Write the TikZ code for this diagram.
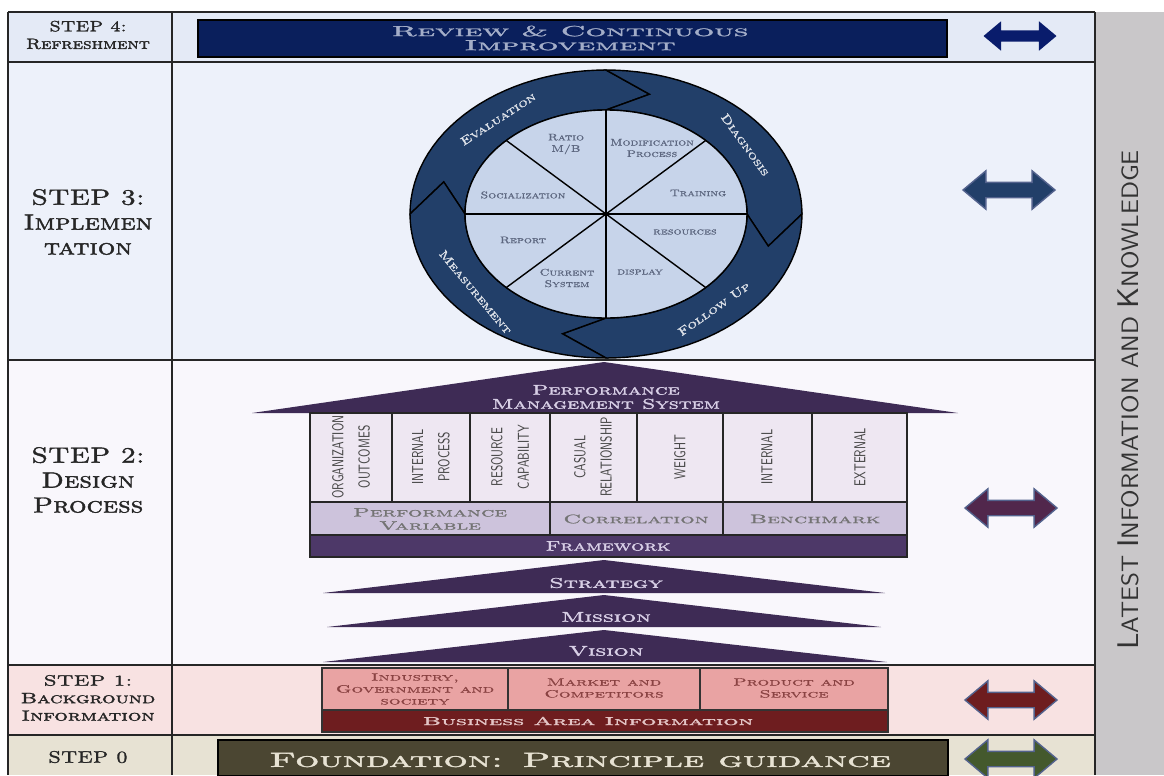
\documentclass[tikz,border=0pt]{standalone}
\usepackage{fontspec}
\usepackage{tikz}
\usetikzlibrary{shapes.arrows}

\newfontfamily\capbold{lmromancaps10-regular.otf}[FakeBold=1.6]
\newfontfamily\capsemi{lmromancaps10-regular.otf}[FakeBold=0.8]
\newfontfamily\capring{lmromancaps10-regular.otf}[FakeBold=1.6, FakeStretch=1.3]

\definecolor{rowfour}{HTML}{E4EAF6}
\definecolor{rowthree}{HTML}{EDF1FA}
\definecolor{rowtwo}{HTML}{F9F7FC}
\definecolor{rowone}{HTML}{F8E2E2}
\definecolor{rowzero}{HTML}{E7E2D3}
\definecolor{sidegray}{HTML}{C9C7C9}
\definecolor{navy}{HTML}{0A1F5C}
\definecolor{ringblue}{HTML}{223F69}
\definecolor{piefill}{HTML}{C7D4EA}
\definecolor{pietext}{HTML}{5D6780}
\definecolor{plum}{HTML}{3E2B55}
\definecolor{lilac}{HTML}{EEE7F2}
\definecolor{midlilac}{HTML}{CDC3DC}
\definecolor{frameplum}{HTML}{4D3868}
\definecolor{plumtext}{HTML}{D8CFE6}
\definecolor{salmon}{HTML}{E9A3A3}
\definecolor{boxtext}{HTML}{8A4343}
\definecolor{brick}{HTML}{6E1D1F}
\definecolor{olive}{HTML}{4B4632}

\newcommand{\biginit}[1]{{\fontsize{17}{17}\selectfont #1}}

\tikzset{
  gridline/.style={line width=1.2pt, black!85},
  stepname/.style={align=center, text=black!85, xscale=1.25},
  sidearrow/.style={double arrow, inner sep=0pt, inner ysep=0.14cm,
    double arrow head extend=0.23cm, double arrow tip angle=80,
    minimum height=1.84cm, line width=0.8pt, draw=navy!70},
  pielabel/.style={text=pietext, align=center, xscale=1.3,
    font=\capsemi\fontsize{5.5}{6.5}\selectfont},
  ringlabel/.style={text=white!85!ringblue,
    font=\capring\fontsize{6.7}{8}\selectfont},
  colbox/.style={fill=lilac, draw=black!85, line width=1pt},
  coltext/.style={rotate=90, xscale=0.7, text=black!72, align=center,
    font=\fontsize{9}{15}\selectfont\sffamily},
  plumlabel/.style={text=plumtext, align=center,
    font=\capbold\fontsize{8}{8}\selectfont},
  barlabel/.style={text=black!55, align=center, xscale=1.85,
    font=\capsemi\fontsize{7}{7.5}\selectfont},
  boxlabel/.style={text=boxtext, align=center, xscale=1.75,
    font=\capsemi\fontsize{6}{6.8}\selectfont}
}

\begin{document}
\begin{tikzpicture}[x=0.02cm, y=-0.02cm]
\useasboundingbox (0,0) rectangle (1164,775);
% rows
\fill[rowfour] (8,12) rectangle (1095,62);
\fill[rowthree] (8,62) rectangle (1095,360);
\fill[rowtwo] (8,360) rectangle (1095,665);
\fill[rowone] (8,665) rectangle (1095,735);
\fill[rowzero] (8,735) rectangle (1095,775);
\fill[sidegray] (1095,12) rectangle (1164,775);
\foreach \y in {12,62,360,665,735}
  \draw[gridline] (8,\y) -- (1095,\y);
\foreach \x in {8,172,1095}
  \draw[gridline] (\x,12) -- (\x,775);

\node[stepname, font=\capbold\fontsize{8.5}{10}\selectfont] (s4) at (88,35) {STEP 4:\\Refreshment};
\node[stepname, font=\capbold\fontsize{12.5}{14.2}\selectfont] (s3) at (88,222) {STEP 3:\\Implemen\\tation};
\node[stepname, font=\capbold\fontsize{12.5}{14.2}\selectfont] (s2) at (88,480) {STEP 2:\\Design\\Process};
\node[stepname, xscale=1.15, font=\capbold\fontsize{8.5}{10}\selectfont] (s1) at (88,698) {STEP 1:\\Background\\Information};
\node[stepname, font=\capbold\fontsize{9.5}{11}\selectfont] (s0) at (88,757) {STEP 0};

% step 4
\filldraw[fill=navy, draw=black, line width=0.8pt] (198,20) rectangle (947,57);
\node[text=rowfour!70!navy, align=center, xscale=2.2, font=\capbold\fontsize{8.3}{8}\selectfont] (review) at (570,38) {Review \& Continuous\\Improvement};

% step 3: cycle
\coordinate (pc) at (606,214);
\foreach \s in {180,90,0,-90}
  \filldraw[fill=ringblue, draw=black, line width=0.8pt]
    plot[domain=\s:\s-90, samples=30] ({606+196*cos(\x)},{214-144*sin(\x)})
    -- ({606+168*cos(\s-105)},{214-124*sin(\s-105)})
    -- plot[domain=\s-90:\s, samples=30] ({606+141*cos(\x)},{214-104*sin(\x)})
    -- ({606+168*cos(\s-15)},{214-124*sin(\s-15)}) -- cycle;
\filldraw[fill=piefill, draw=black, line width=0.8pt] (pc) ellipse [x radius=141, y radius=104];
\foreach \a in {0,45,...,315}
  \draw[line width=0.8pt] (pc) -- ({606+141*cos(\a)},{214-104*sin(\a)});
\fill (pc) circle [radius=2];

\node[pielabel] (ratio) at (566,144) {Ratio\\M/B};
\node[pielabel] (modif) at (652,148) {Modification\\Process};
\node[pielabel] (train) at (698,193) {Training};
\node[pielabel] (resrc) at (685,232) {resources};
\node[pielabel] (displ) at (640,272) {display};
\node[pielabel] (curr) at (567,278) {Current\\System};
\node[pielabel] (report) at (523,240) {Report};
\node[pielabel] (social) at (523,195) {Socialization};

\node[rotate=33, ringlabel] (evaltxt) at ({606+168*cos(130)},{214-124*sin(130)}) {Evaluation};
\node[rotate=-54, ringlabel] (diagtxt) at ({606+168*cos(34)},{214-124*sin(34)}) {Diagnosis};
\node[rotate=35, ringlabel] (follow) at ({606+168*cos(-50)},{214-124*sin(-50)}) {Follow Up};
\node[rotate=-50, ringlabel] (meastxt) at ({606+168*cos(219)},{214-124*sin(219)}) {Measurement};

% step 2: house
\fill[plum] (252,413) -- (604,362) -- (958,413) -- cycle;
\node[plumlabel, xscale=1.55] (pms) at (606,397) {Performance\\Management System};
\foreach \xa/\xb in {310/392,392/470,470/550,550/637,637/723,723/812,812/907}
  \filldraw[colbox] (\xa,413) rectangle (\xb,502);
\node[coltext] (orgc) at (351,457) {ORGANIZATION\\OUTCOMES};
\node[coltext] (intp) at (431,457) {INTERNAL\\PROCESS};
\node[coltext] (resc) at (510,457) {RESOURCE\\CAPABILITY};
\node[coltext] (casr) at (593,457) {CASUAL\\RELATIONSHIP};
\node[coltext] (wgt) at (680,457) {WEIGHT};
\node[coltext] (intl) at (767,457) {INTERNAL};
\node[coltext] (extl) at (860,457) {EXTERNAL};
\filldraw[colbox, fill=midlilac] (310,502) rectangle (550,535);
\filldraw[colbox, fill=midlilac] (550,502) rectangle (723,535);
\filldraw[colbox, fill=midlilac] (723,502) rectangle (907,535);
\node[barlabel] (pvar) at (430,519) {Performance\\Variable};
\node[barlabel] (corr) at (636,519) {Correlation};
\node[barlabel] (bench) at (815,519) {Benchmark};
\filldraw[colbox, fill=frameplum] (310,535) rectangle (907,557);
\node[plumlabel, xscale=1.5] (frame) at (608,546) {Framework};
\fill[plum] (323,593) -- (604,560) -- (885,593) -- cycle;
\node[plumlabel, xscale=1.7] (strat) at (606,583) {Strategy};
\fill[plum] (327,627) -- (604,595) -- (881,627) -- cycle;
\node[plumlabel, xscale=1.7] (miss) at (606,617) {Mission};
\fill[plum] (323,662) -- (604,630) -- (887,662) -- cycle;
\node[plumlabel, xscale=1.7] (vis) at (606,651) {Vision};

% step 1
\filldraw[fill=salmon, draw=black!80, line width=0.8pt] (322,668) rectangle (508,710);
\filldraw[fill=salmon, draw=black!80, line width=0.8pt] (508,668) rectangle (700,710);
\filldraw[fill=salmon, draw=black!80, line width=0.8pt] (700,668) rectangle (888,710);
\filldraw[fill=brick, draw=black!80, line width=0.8pt] (322,710) rectangle (888,732);
\node[boxlabel] (indus) at (415,689) {Industry,\\Government and\\society};
\node[boxlabel] (market) at (604,688) {Market and\\Competitors};
\node[boxlabel] (prod) at (794,688) {Product and\\Service};
\node[text=rowone!85!brick, xscale=2.1, font=\capbold\fontsize{6.5}{7}\selectfont] (biz) at (588,721) {Business Area Information};

% step 0
\filldraw[fill=olive, draw=black, line width=1pt] (218,740) rectangle (948,776);
\node[text=rowzero, xscale=1.85, font=\capbold\fontsize{11.7}{12}\selectfont] (found) at (580,760) {Foundation: Principle guidance};

% arrows
\node[sidearrow, fill=navy!90!blue, draw=none, minimum height=1.46cm, inner ysep=0.1cm, double arrow head extend=0.18cm] (arr4) at (1020,36) {};
\node[sidearrow, fill=ringblue] (arr3) at (1009,190) {};
\node[sidearrow, fill=plum!90!red] (arr2) at (1011,508) {};
\node[sidearrow, fill=brick] (arr1) at (1011,700) {};
\node[sidearrow, fill=olive!90!green] (arr0) at (1011,759) {};

\node[rotate=90, xscale=1.08, text=black!80, font=\fontsize{13.5}{13.5}\selectfont\sffamily] (latest) at (1128,400) {\biginit{L}ATEST \biginit{I}NFORMATION AND \biginit{K}NOWLEDGE};
\end{tikzpicture}
\end{document}
